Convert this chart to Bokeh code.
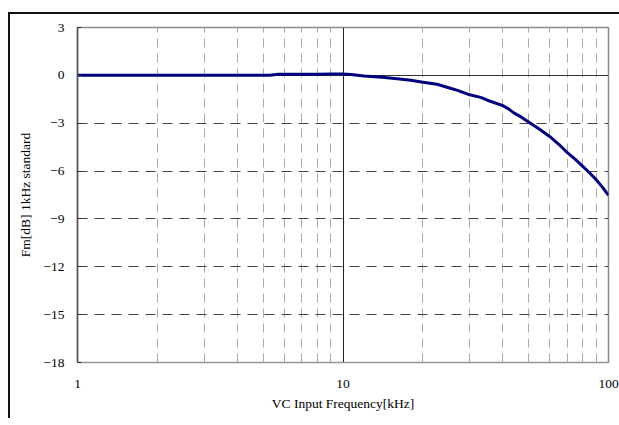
from bokeh.plotting import figure
from bokeh.layouts import column
from bokeh.models import FixedTicker, Grid, Range1d
from bokeh.embed import file_html
from bokeh.resources import INLINE

# Frequency response, normalised to the 1 kHz level
freq_khz = [1, 2, 3, 4, 5, 5.3, 5.7, 7, 8, 9, 10, 10.7, 12, 14, 16, 18, 20,
            22.6, 25, 27, 30, 33, 35, 37, 40, 42, 44, 47, 50, 55, 60, 65, 70,
            75, 80, 85, 90, 95, 100]
gain_db = [0.0, 0.0, 0.0, 0.0, 0.0, 0.0, 0.07, 0.07, 0.07, 0.08, 0.08, 0.06,
           -0.04, -0.12, -0.21, -0.31, -0.43, -0.56, -0.78, -0.94, -1.22,
           -1.38, -1.56, -1.7, -1.9, -2.1, -2.35, -2.62, -2.92, -3.38, -3.83,
           -4.32, -4.85, -5.27, -5.7, -6.12, -6.55, -7.02, -7.52]

x_major = [1, 10, 100]
x_minor = [2, 3, 4, 5, 6, 7, 8, 9, 20, 30, 40, 50, 60, 70, 80, 90]
y_ticks = [-18, -15, -12, -9, -6, -3, 0, 3]
y_dashed = [-15, -12, -9, -6, -3]

FONT = "Liberation Serif"

p = figure(width=609, height=404, x_axis_type="log",
           x_range=Range1d(1, 100), y_range=Range1d(-18, 3),
           output_backend="svg", toolbar_location=None, tools="",
           min_border_left=67, min_border_right=11,
           min_border_top=13, min_border_bottom=56)
p.toolbar.logo = None
p.background_fill_color = "white"
p.border_fill_color = "white"
p.outline_line_color = "#8a8a8a"
p.outline_line_width = 1.5

# axes
p.xaxis.ticker = FixedTicker(ticks=x_major)
p.xaxis.major_label_overrides = {1: "1", 10: "10", 100: "100"}
p.xaxis.axis_label = "VC Input Frequency[kHz]"
p.xaxis.axis_line_color = "#999999"
p.xaxis.major_tick_line_color = None
p.xaxis.minor_tick_line_color = None
p.xaxis.major_label_standoff = 11
p.xaxis.axis_label_standoff = 5

p.yaxis.ticker = FixedTicker(ticks=y_ticks)
p.yaxis.axis_label = "Fm[dB] 1kHz standard"
p.yaxis.axis_line_color = "#555555"
p.yaxis.axis_line_width = 1.5
p.yaxis.major_tick_in = 4
p.yaxis.major_tick_out = 0
p.yaxis.major_tick_line_color = "#333333"
p.yaxis.minor_tick_line_color = None
p.yaxis.major_label_standoff = 13
p.yaxis.axis_label_standoff = 7

for ax in (p.xaxis, p.yaxis):
    ax.major_label_text_font = FONT
    ax.major_label_text_font_size = "13.5px"
    ax.major_label_text_color = "black"
    ax.axis_label_text_font = FONT
    ax.axis_label_text_font_size = "13.5px"
    ax.axis_label_text_font_style = "normal"
    ax.axis_label_text_color = "black"

# grids
p.xgrid.ticker = FixedTicker(ticks=[10], minor_ticks=x_minor)
p.xgrid.grid_line_color = "#222222"
p.xgrid.grid_line_width = 1
p.xgrid.minor_grid_line_color = "#aaaaaa"
p.xgrid.minor_grid_line_dash = "9 6"
p.xgrid.minor_grid_line_width = 1

p.ygrid.ticker = FixedTicker(ticks=y_dashed)
p.ygrid.grid_line_color = "#444444"
p.ygrid.grid_line_dash = "10 7"
p.ygrid.grid_line_width = 1

zero_grid = Grid(dimension=1, ticker=FixedTicker(ticks=[0]),
                 grid_line_color="#333333", grid_line_width=1)
p.add_layout(zero_grid)

# response curve
p.line(freq_khz, gain_db, line_color="#000080", line_width=3,
       line_join="round")

# outer frame drawn around the chart (top and left edges)
page = column(p, styles={"margin-left": "8px", "margin-top": "12px",
                         "border-left": "2px solid #111",
                         "border-top": "2px solid #111"})

open("out.html", "w").write(file_html(page, INLINE))
